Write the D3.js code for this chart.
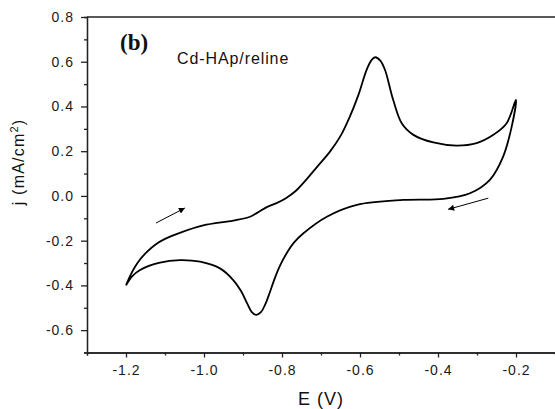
<!DOCTYPE html>
<html>
<head>
<meta charset="utf-8">
<script src="https://cdn.jsdelivr.net/npm/d3@7"></script>
<style>
    body { margin: 0; background: #fff; }
    svg { display: block; font-family: "Liberation Sans", Arial, sans-serif; }
    .tick text { font-size: 14px; letter-spacing: 1px; fill: #1a1a1a; }
    .domain, .tick line { stroke: #222; stroke-width: 1.3; }
</style>
</head>
<body>
<div id="chart"></div>
<script>
// forward scan (upper branch), -1.2 V -> -0.2 V
var forwardE = [-1.200, -1.190, -1.178, -1.163, -1.145, -1.125, -1.100, -1.062, -1.002, -0.925, -0.882, -0.865, -0.839,
    -0.814, -0.790, -0.765, -0.740, -0.711, -0.677, -0.651, -0.626, -0.604, -0.583, -0.570, -0.561, -0.548, -0.536,
    -0.515, -0.493, -0.463, -0.412, -0.352, -0.301, -0.258, -0.224, -0.200];
var forwardJ = [-0.400, -0.360, -0.320, -0.282, -0.248, -0.218, -0.192, -0.165, -0.132, -0.110, -0.093, -0.077, -0.050,
    -0.032, -0.010, 0.022, 0.068, 0.128, 0.198, 0.265, 0.355, 0.452, 0.564, 0.608, 0.620, 0.605, 0.564,
    0.430, 0.325, 0.273, 0.239, 0.225, 0.236, 0.273, 0.325, 0.430];

// reverse scan (lower branch), -0.2 V -> -1.2 V
var reverseE = [-0.211, -0.233, -0.267, -0.318, -0.386, -0.489, -0.608, -0.685, -0.745, -0.770, -0.790, -0.806, -0.820,
    -0.832, -0.843, -0.854, -0.866, -0.878, -0.890, -0.905, -0.925, -0.959, -1.010, -1.062, -1.113, -1.164, -1.185, -1.200];
var reverseJ = [0.310, 0.176, 0.072, 0.012, -0.013, -0.018, -0.040, -0.093, -0.167, -0.210, -0.262, -0.315, -0.375,
    -0.435, -0.485, -0.520, -0.532, -0.518, -0.478, -0.425, -0.376, -0.324, -0.294, -0.287, -0.298, -0.331, -0.361, -0.400];

// scan direction arrows [tailE, tailJ, tipE, tipJ]
var arrows = [
    [-1.123, -0.121, -1.049, -0.054],
    [-0.271, -0.010, -0.374, -0.060]
];

var xTicks = [-1.2, -1.0, -0.8, -0.6, -0.4, -0.2];
var xMinor = [-1.3, -1.1, -0.9, -0.7, -0.5, -0.3];
var yTicks = [-0.6, -0.4, -0.2, 0.0, 0.2, 0.4, 0.6, 0.8];
var yMinor = [-0.7, -0.5, -0.3, -0.1, 0.1, 0.3, 0.5, 0.7];

var width = 555;
var height = 409;
var margin = { top: 17, right: 0, bottom: 56.5, left: 87 };

var svg = d3.select("#chart")
    .append("svg")
    .attr("width", width)
    .attr("height", height);

var x = d3.scaleLinear()
    .domain([-1.3, -0.1])
    .range([margin.left, width - margin.right]);

var y = d3.scaleLinear()
    .domain([-0.7, 0.8])
    .range([height - margin.bottom, margin.top]);

/*
    axes: minor ticks first, then the labelled ones
*/
svg.append("g")
    .attr("transform", "translate(0," + y(-0.7) + ")")
    .call(d3.axisBottom(x).tickValues(xMinor).tickSize(3).tickFormat(""));

svg.append("g")
    .attr("transform", "translate(0," + y(-0.7) + ")")
    .call(d3.axisBottom(x).tickValues(xTicks).tickSize(5).tickPadding(8).tickSizeOuter(0)
        .tickFormat(d3.format(".1f")));

svg.append("g")
    .attr("transform", "translate(" + x(-1.3) + ",0)")
    .call(d3.axisLeft(y).tickValues(yMinor).tickSize(3).tickFormat(""));

svg.append("g")
    .attr("transform", "translate(" + x(-1.3) + ",0)")
    .call(d3.axisLeft(y).tickValues(yTicks).tickSize(6).tickPadding(7).tickSizeOuter(0)
        .tickFormat(d3.format(".1f")));

// top frame line
svg.append("line")
    .attr("x1", x(-1.3)).attr("x2", x(-0.1))
    .attr("y1", y(0.8)).attr("y2", y(0.8))
    .attr("stroke", "#222").attr("stroke-width", 1.3);

// plain hyphens like the original
svg.selectAll(".tick text").text(function () {
    return d3.select(this).text().replace("\u2212", "-");
});

/*
    the CV loop
*/
var loop = [];
forwardE.forEach(function (e, i) { loop.push([e, forwardJ[i]]); });
reverseE.forEach(function (e, i) { loop.push([e, reverseJ[i]]); });

var line = d3.line()
    .x(function (d) { return x(d[0]); })
    .y(function (d) { return y(d[1]); })
    .curve(d3.curveCatmullRom.alpha(0.5));

svg.append("path")
    .datum(loop)
    .attr("d", line)
    .attr("fill", "none")
    .attr("stroke", "#000")
    .attr("stroke-width", 1.8)
    .attr("stroke-linejoin", "round");

/*
    arrows
*/
svg.append("defs").append("marker")
    .attr("id", "head")
    .attr("viewBox", "0 0 10 10")
    .attr("refX", 10).attr("refY", 5)
    .attr("markerUnits", "userSpaceOnUse")
    .attr("markerWidth", 10).attr("markerHeight", 6)
    .attr("orient", "auto")
    .append("path")
    .attr("d", "M0,0 L10,5 L0,10 Z")
    .attr("fill", "#000");

svg.selectAll(".arrow")
    .data(arrows)
    .enter().append("line")
    .attr("class", "arrow")
    .attr("x1", function (d) { return x(d[0]); })
    .attr("y1", function (d) { return y(d[1]); })
    .attr("x2", function (d) { return x(d[2]); })
    .attr("y2", function (d) { return y(d[3]); })
    .attr("stroke", "#000")
    .attr("stroke-width", 1)
    .attr("marker-end", "url(#head)");

/*
    labels
*/
svg.append("text")
    .attr("x", 120).attr("y", 50)
    .attr("font-family", "'Liberation Serif', 'Times New Roman', serif")
    .attr("font-weight", "bold")
    .attr("font-size", 23)
    .attr("fill", "#111")
    .text("(b)");

svg.append("text")
    .attr("x", 177).attr("y", 63.5)
    .attr("font-size", 16)
    .attr("letter-spacing", 0.9)
    .attr("fill", "#111")
    .text("Cd-HAp/reline");

svg.append("text")
    .attr("x", (x(-1.3) + x(-0.1)) / 2)
    .attr("y", 405)
    .attr("text-anchor", "middle")
    .attr("font-size", 18)
    .attr("letter-spacing", 1)
    .attr("fill", "#111")
    .text("E (V)");

var ylab = svg.append("text")
    .attr("transform", "translate(24,162) rotate(-90)")
    .attr("text-anchor", "middle")
    .attr("font-size", 16)
    .attr("letter-spacing", 1.2)
    .attr("fill", "#111");
ylab.append("tspan").text("j (mA/cm");
ylab.append("tspan").attr("dy", -6).attr("font-size", 11).text("2");
ylab.append("tspan").attr("dy", 6).text(")");
</script>
</body>
</html>
